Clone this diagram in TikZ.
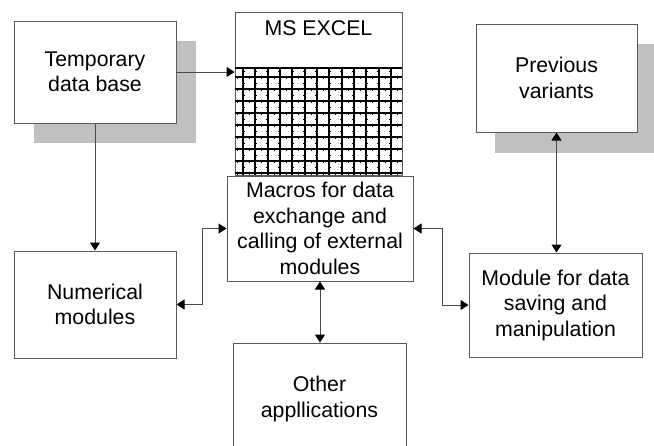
\documentclass[tikz,border=0pt]{standalone}
\usepackage{fontspec}
\setmainfont{Liberation Sans}
\usetikzlibrary{arrows.meta}
\definecolor{boxgray}{HTML}{5A5A5A}
\definecolor{linegray}{HTML}{4A4A4A}
\definecolor{shadowgray}{HTML}{C0C0C0}
\begin{document}
\begin{tikzpicture}[x=1pt,y=-1pt,
  box/.style={draw=boxgray, line width=1pt, fill=white, inner sep=0pt, align=center,
    font=\fontsize{21.3}{25.5}\selectfont},
  conn/.style={draw=linegray, line width=1pt},
  tip/.style={-{Triangle[length=8pt,width=10pt,color=black]}},
  both/.style={{Triangle[length=8pt,width=10pt,color=black]}-{Triangle[length=8pt,width=10pt,color=black]}},
  gridline/.style={line width=1.8pt, black},
  gridtick/.style={line width=0.35pt, black}]
\useasboundingbox (0,0) rectangle (654,445);
\clip (0,0) rectangle (654,445);
% shadows
\fill[shadowgray] (34,41) rectangle (196,143);
\fill[shadowgray] (495,44) rectangle (657,153);
% boxes
\node[box, minimum width=162pt, minimum height=102pt] (temp) at (95,72) {Temporary\\data base};
\node[box, minimum width=161pt, minimum height=108pt] (prev) at (556.5,78) {Previous\\variants};
\node[box, minimum width=162pt, minimum height=107pt] (num) at (95,304.5) {Numerical\\modules};
\node[box, minimum width=173pt, minimum height=104pt] (mod) at (555.5,305) {Module for data\\saving and\\manipulation};
\node[box, minimum width=173pt, minimum height=112pt] (oth) at (319.5,399) {Other\\appllications};
% excel
\node[box, minimum width=167pt, minimum height=163pt] (excel) at (318.5,93.5) {};
\node[font=\fontsize{21.3}{25.5}\selectfont, anchor=base, inner sep=0pt] (exh) at (318.5,35) {MS EXCEL};
\draw[gridline] (235,68) -- (402,68);
\foreach \k in {0,...,8} \draw[gridline] (235,{77+12*\k}) -- (402,{77+12*\k});
\foreach \k in {0,...,12} \draw[gridline] ({243+12.33*\k},68) -- ({243+12.33*\k},175);
\foreach \i in {0,...,13} \foreach \k in {0,...,8}
  \draw[gridtick] ({237+12.33*\i},{77+12*\k-1.5}) -- ({237+12.33*\i},{77+12*\k+1.5});
\foreach \i in {0,...,12} \foreach \k in {0,...,8}
  \draw[gridtick] ({243+12.33*\i-1.5},{71+12*\k}) -- ({243+12.33*\i+1.5},{71+12*\k});
\node[box, minimum width=186pt, minimum height=105pt] (mac) at (320,228.5) {Macros for data\\exchange and\\calling of external\\modules};
% connectors
\draw[conn, tip] (temp.east) -- (temp.east -| excel.west);
\draw[conn, tip] (temp.south) -- (num.north);
\draw[conn, both] (num.east) -- ++(26,0) |- (mac.west);
\draw[conn, both] (mac.east) -- ++(29,0) |- (mod.west);
\draw[conn, both] (prev.south) -- (prev.south |- mod.north);
\draw[conn, both] (mac.south) -- (mac.south |- oth.north);
\end{tikzpicture}
\end{document}
